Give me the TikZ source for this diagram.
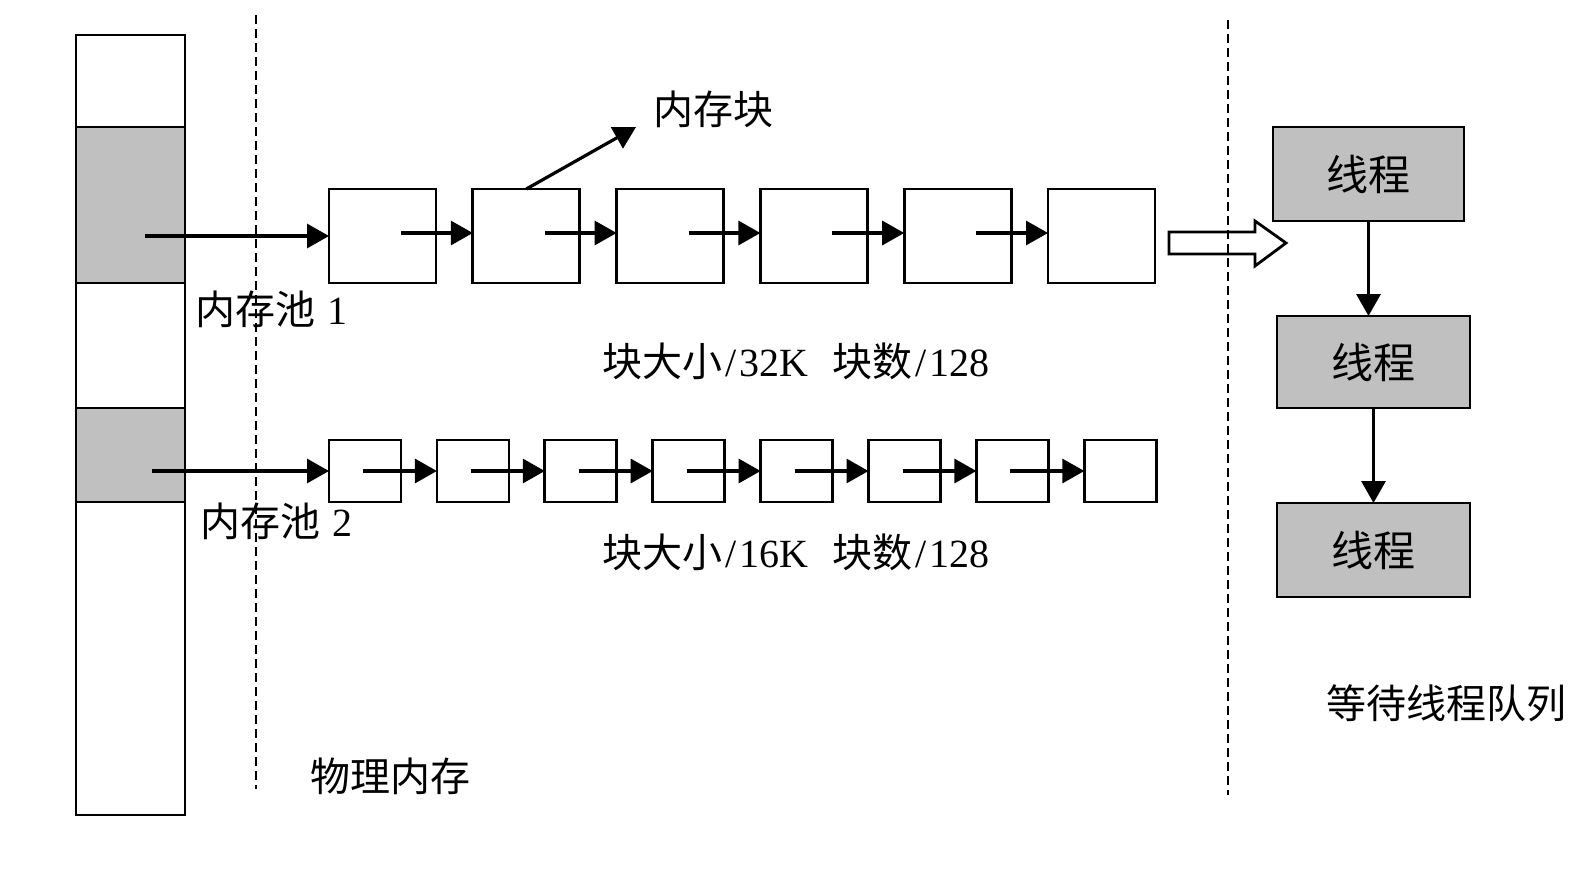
\documentclass[tikz,border=0pt]{standalone}
\usepackage{fontspec}
\setmainfont{Liberation Serif}
\newfontfamily\cjk{Noto Sans CJK SC}
\usetikzlibrary{arrows.meta,calc}
\definecolor{shade}{RGB}{192,192,192}
\newcommand{\slsh}{\kern3pt/\kern3pt}
\begin{document}
\begin{tikzpicture}[x=1pt,y=-1pt,
  every node/.style={inner sep=0pt, outer sep=0pt},
  cell/.style={draw=black, line width=2.8pt, minimum width=109pt},
  greycell/.style={cell, fill=shade},
  blkA/.style={draw=black, line width=2.8pt, minimum width=107pt, minimum height=94pt},
  blkB/.style={draw=black, line width=2.8pt, minimum width=72pt, minimum height=62pt},
  thr/.style={draw=black, line width=2.8pt, fill=shade, font=\cjk\fontsize{42}{46}\selectfont},
  link/.style={line width=3.2pt, -{Triangle[length=22pt,width=24pt]}},
  sepline/.style={line width=2.4pt, dash pattern=on 9pt off 5pt},
  lbl/.style={anchor=west, font=\fontsize{40}{44}\selectfont},
]
\useasboundingbox (0,0) rectangle (1587,870);

% dashed separators
\coordinate (d1a) at (256,15);
\coordinate (d1b) at (256,789);
\coordinate (d2a) at (1228,20);
\coordinate (d2b) at (1228,795);
\draw[sepline] (d1a) -- (d1b);
\draw[sepline] (d2a) -- (d2b);

% physical memory column
\node[cell, minimum height=92pt] (c1) at (130.5,81) {};
\node[greycell, minimum height=156pt] (c2) at (130.5,205) {};
\node[cell, minimum height=125pt] (c3) at (130.5,345.5) {};
\node[greycell, minimum height=94pt] (c4) at (130.5,455) {};
\node[cell, minimum height=313pt] (c5) at (130.5,658.5) {};

% row 1 blocks
\foreach \i in {0,...,5}{
  \node[blkA] (r1-\i) at ({382.5+143.8*\i},236) {};
}
% row 2 blocks
\foreach \i in {0,...,7}{
  \node[blkB] (r2-\i) at ({365+107.9*\i},471) {};
}

% pool arrows
\coordinate (p1) at (145,236);
\coordinate (p2) at (152,471);
\draw[link] (p1) -- (r1-0.west);
\draw[link] (p2) -- (r2-0.west);

% row 1 links
\foreach \i/\j in {0/1,1/2,2/3,3/4,4/5}{
  \draw[link] ($(r1-\i.center)+(18.5,-3)$) -- ($(r1-\j.west)+(0,-3)$);
}
% row 2 links
\foreach \i/\j in {0/1,1/2,2/3,3/4,4/5,5/6,6/7}{
  \draw[link] ($(r2-\i.center)+(-2,0)$) -- (r2-\j.west);
}

% memory block label
\coordinate (mbtip) at (636,127);
\draw[link] (r1-1.north) -- (mbtip);
\node[lbl] (mblabel) at (653,109) {\cjk 内存块};

% hollow arrow
\draw[line width=2.8pt, line join=miter] (1169,232) -- (1255,232) -- (1255,221) -- (1286,243) -- (1255,266) -- (1255,254) -- (1169,254) -- cycle;

% thread queue
\node[thr, minimum width=191pt, minimum height=94pt] (t1) at (1368.5,174) {线程};
\node[thr, minimum width=193pt, minimum height=92pt] (t2) at (1373.5,362) {线程};
\node[thr, minimum width=193pt, minimum height=94pt] (t3) at (1373.5,550) {线程};
\draw[link] (t1.south) -- (t1.south |- t2.north);
\draw[link] (t2.south) -- (t3.north);

% labels
\node[lbl] (pool1) at (195,309) {{\cjk 内存池}\hspace{0.3em}1};
\node[lbl] (pool2) at (200,521) {{\cjk 内存池}\hspace{0.3em}2};
\node[lbl] (size1) at (602,361) {{\cjk 块大小}\slsh 32K\hspace{0.6em}{\cjk 块数}\slsh 128};
\node[lbl] (size2) at (602,552) {{\cjk 块大小}\slsh 16K\hspace{0.6em}{\cjk 块数}\slsh 128};
\node[lbl] (phys) at (310,776) {\cjk 物理内存};
\node[lbl] (queue) at (1326,703) {\cjk 等待线程队列};
\end{tikzpicture}
\end{document}
